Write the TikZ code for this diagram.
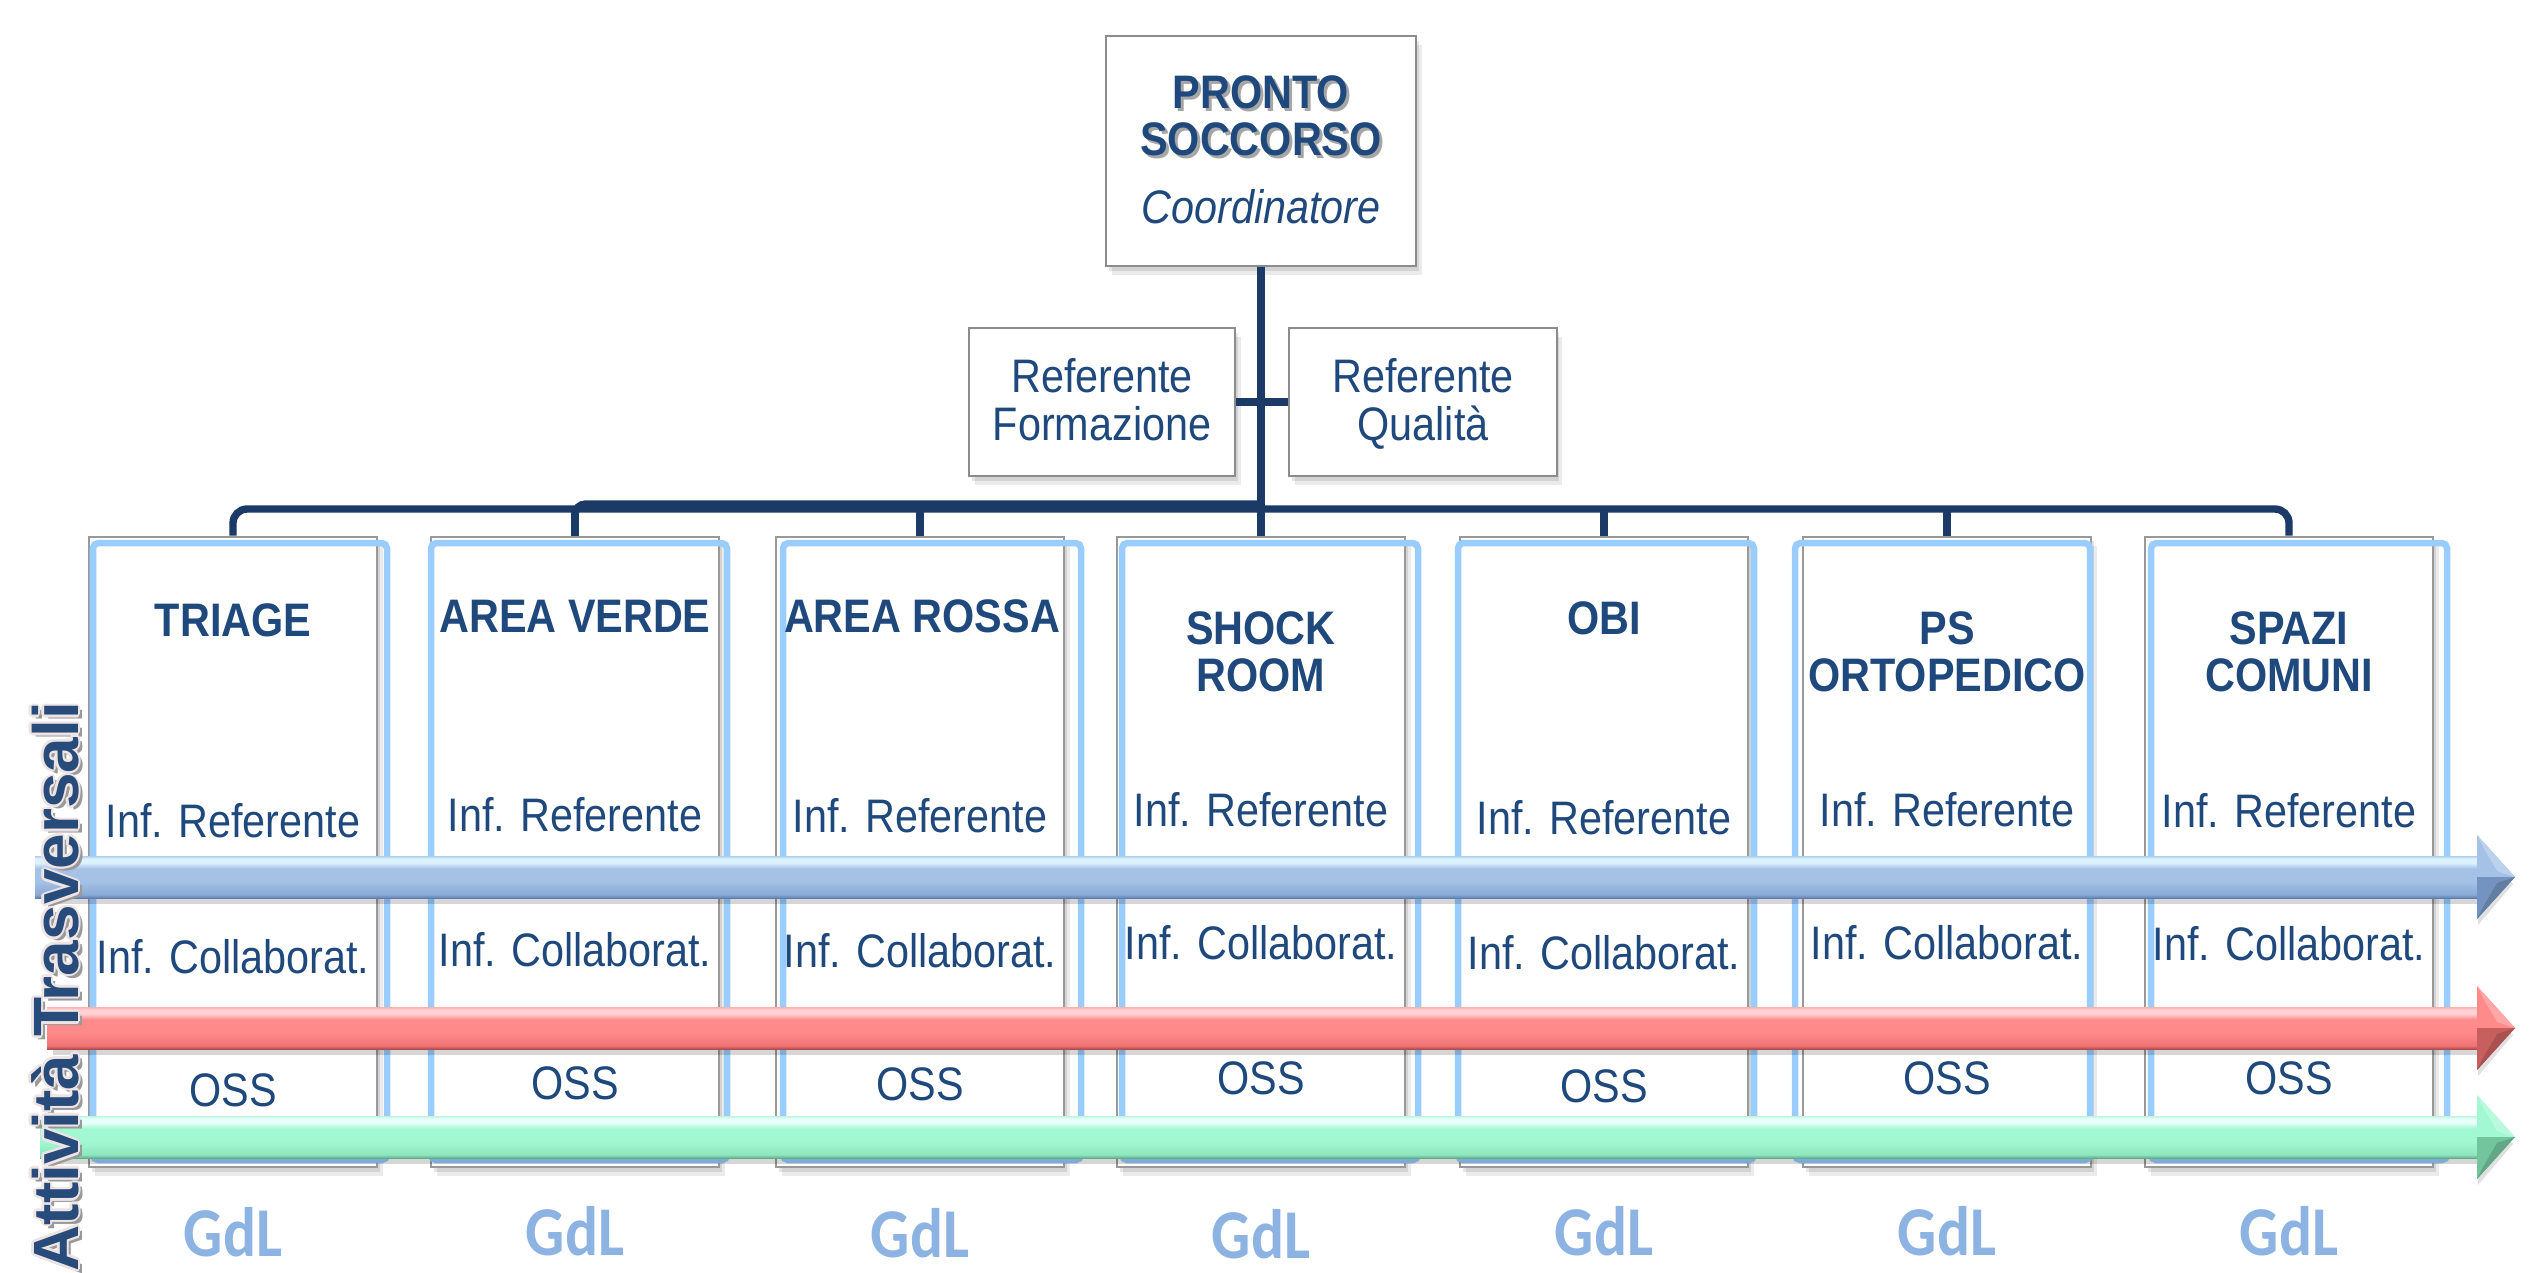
\documentclass[tikz,border=0pt]{standalone}
\usepackage{fontspec}
\setmainfont{Liberation Sans}[FakeStretch=0.88]
\newfontfamily\vfont{Liberation Sans}
\newfontfamily\gfont{Carlito}[FakeStretch=0.88]
\usetikzlibrary{calc}
\definecolor{txt}{HTML}{1F497D}
\definecolor{connc}{HTML}{1B3A66}
\definecolor{outl}{HTML}{99CCFF}
\definecolor{gdlc}{HTML}{8DB3E2}
\definecolor{vtxt}{HTML}{274B7A}
\definecolor{vglow}{HTML}{EFE4E4}
% blue arrow
\definecolor{bbot}{HTML}{5F7FB0}\definecolor{bmidb}{HTML}{8AA9D4}\definecolor{bmid}{HTML}{A5C1E6}
\definecolor{btop}{HTML}{DDF2FF}\definecolor{bedge}{HTML}{B0CCEE}
% red arrow
\definecolor{rbot}{HTML}{B04C4C}\definecolor{rmidb}{HTML}{F07474}\definecolor{rmid}{HTML}{FF8A8A}
\definecolor{rtop}{HTML}{FFD0D4}\definecolor{redge}{HTML}{FFB0B0}
% green arrow
\definecolor{gbot}{HTML}{5FAF88}\definecolor{gmidb}{HTML}{8EE6BE}\definecolor{gmid}{HTML}{A2F8D2}
\definecolor{gtop}{HTML}{E6FFFA}\definecolor{gedge}{HTML}{BFF5E0}
\pgfdeclareverticalshading{arrB}{100bp}{color(0bp)=(bbot); color(25bp)=(bbot); color(29bp)=(bmidb); color(45bp)=(bmid); color(60bp)=(bmid); color(67bp)=(btop); color(72bp)=(btop); color(75bp)=(bedge); color(100bp)=(bedge)}
\pgfdeclareverticalshading{arrR}{100bp}{color(0bp)=(rbot); color(25bp)=(rbot); color(29bp)=(rmidb); color(45bp)=(rmid); color(60bp)=(rmid); color(67bp)=(rtop); color(72bp)=(rtop); color(75bp)=(redge); color(100bp)=(redge)}
\pgfdeclareverticalshading{arrG}{100bp}{color(0bp)=(gbot); color(25bp)=(gbot); color(29bp)=(gmidb); color(45bp)=(gmid); color(60bp)=(gmid); color(67bp)=(gtop); color(72bp)=(gtop); color(75bp)=(gedge); color(100bp)=(gedge)}
\newcommand\fsz{\fontsize{13.37}{13.37}\selectfont}
% #1 y, #2 x start, #3 shading, #4 mid colour, #5 darker colour
\newcommand\trarrow[5]{%
  \fill[black,opacity=0.16] (#2+6,#1-10) rectangle (2478,#1+27);
  \fill[black,opacity=0.12] (2478,#1-32) -- (2513,#1+7) -- (2478,#1+48) -- cycle;
  \shade[shading=#3] (#2,#1-21) rectangle (2480,#1+21);
  \fill[#4] (2477,#1-42) -- (2515,#1) -- (2477,#1) -- cycle;
  \fill[#5] (2477,#1) -- (2515,#1) -- (2477,#1+42) -- cycle;
  \fill[#4!75!white] (2477,#1-42) -- (2515,#1) -- (2497,#1-6) -- (2483,#1-30) -- cycle;
  \fill[#5!85!black] (2477,#1+42) -- (2515,#1) -- (2497,#1+6) -- (2483,#1+30) -- cycle;
}
\tikzset{
  shadowed/.style={preaction={fill=black,opacity=0.08,transform canvas={xshift=1.6pt,yshift=-2.6pt}},
                   preaction={fill=black,opacity=0.10,transform canvas={xshift=0.8pt,yshift=-1.3pt}}},
  tbox/.style={draw=black!45, line width=0.6pt, fill=white, shadowed, inner sep=0pt},
  colbox/.style={draw=black!40, line width=0.7pt, fill=white, shadowed, minimum width=2.88cm, minimum height=6.30cm, inner sep=0pt},
  bluebox/.style={draw=outl, line width=1.85pt, rounded corners=1.5pt},
  conn/.style={draw=connc, line width=2.1pt},
  lbl/.style={anchor=base, inner sep=0pt, text=txt, font=\fsz},
  ttl/.style={lbl, font=\fsz\bfseries},
  gdl/.style={anchor=base, inner sep=0pt, text=gdlc, font=\gfont\bfseries\fontsize{19.9}{19.9}\selectfont},
  vt/.style={anchor=base west, rotate=90, inner sep=0pt, font=\vfont\bfseries\fontsize{18.2}{18.2}\selectfont}
}
\begin{document}
\begin{tikzpicture}[x=0.01cm,y=-0.01cm]
\useasboundingbox (0,0) rectangle (2546,1272);
\fill[white] (0,0) rectangle (2546,1272);

% top and referent boxes
\node[tbox, minimum width=3.10cm, minimum height=2.30cm] (ps) at (1261,151) {};
\node[tbox, minimum width=2.66cm, minimum height=1.48cm] (rf) at (1102,402) {};
\node[tbox, minimum width=2.67cm, minimum height=1.48cm] (rq) at (1423,402) {};

% column boxes
\foreach \ii/\cx/\bl/\br in {1/233/140/154, 2/575/144/152, 3/920/137/161, 4/1261/139/157, 5/1604/146/150, 6/1947/152/143, 7/2289/138/158}{
  \node[colbox] (c\ii) at (\cx,852) {};
  \draw[bluebox] ({\cx-\bl},543) rectangle ({\cx+\br},1160);
}

% connectors
\coordinate (bar) at (1261,509);
\coordinate (bar2) at (1261,504);
\draw[conn] (ps.south) -- (c4.north);
\draw[conn] (rf.east) -- (rq.west);
\draw[conn, rounded corners=4pt] (c1.north) -- (c1.north |- bar) -- (c7.north |- bar) -- (c7.north);
\draw[conn, rounded corners=3pt] (c2.north |- bar) -- (c2.north |- bar2) -- (bar2);
\foreach \ii in {2,3,5,6}{ \draw[conn] (c\ii.north |- bar) -- (c\ii.north); }

% top texts
\node[ttl, text=black!35] (s0a) at (1264,111) {PRONTO};
\node[ttl, text=black!35] (s0b) at (1264,158) {SOCCORSO};
\node[ttl] (t0a) at (1261,108) {PRONTO};
\node[ttl] (t0b) at (1261,155) {SOCCORSO};
\node[lbl, font=\fsz\itshape] (t0c) at (1261,223) {Coordinatore};
\node[lbl] (rf1) at (1102,392) {Referente};
\node[lbl] (rf2) at (1102,440) {Formazione};
\node[lbl] (rq1) at (1423,392) {Referente};
\node[lbl] (rq2) at (1423,440) {Qualità};

% column titles
\node[ttl] (h1) at (233,636) {TRIAGE};
\node[ttl] (h2) at (575,632) {AREA VERDE};
\node[ttl] (h3) at (922,632) {AREA ROSSA};
\node[ttl] (h4a) at (1261,644) {SHOCK};
\node[ttl] (h4b) at (1261,691) {ROOM};
\node[ttl] (h5) at (1604,634) {OBI};
\node[ttl] (h6a) at (1947,644) {PS};
\node[ttl] (h6b) at (1947,691) {ORTOPEDICO};
\node[ttl] (h7a) at (2289,644) {SPAZI};
\node[ttl] (h7b) at (2289,691) {COMUNI};

% column roles
\foreach \ii/\cx/\yr/\yc/\yo in {1/233/837/973/1106, 2/575/831/966/1099, 3/920/832/967/1100, 4/1261/826/959/1094, 5/1604/834/969/1102, 6/1947/826/959/1094, 7/2289/827/960/1094}{
  \node[lbl] (r\ii) at (\cx,\yr) {Inf. Referente};
  \node[lbl] (k\ii) at (\cx,\yc) {Inf. Collaborat.};
  \node[lbl] (o\ii) at (\cx,\yo) {OSS};
}

% transversal arrows
\trarrow{877}{35}{arrB}{bmid}{bbot!70!bmid}
\trarrow{1028}{47}{arrR}{rmid}{rbot!70!rmid}
\trarrow{1137}{40}{arrG}{gmid}{gbot!70!gmid}

% vertical label
\node[vt, text=black!40] (vs) at (82,1276) {Attività Trasversali};
\foreach \dx/\dy in {2.5/0, -2.5/0, 0/2.5, 0/-2.5, 1.8/1.8, -1.8/1.8, 1.8/-1.8, -1.8/-1.8}{
  \node[vt, text=vglow] at (78+\dx,1272+\dy) {Attività Trasversali};
}
\node[vt, text=vtxt] (vl) at (78,1272) {Attività Trasversali};

% GdL labels
\foreach \ii/\cx/\yg in {1/233/1256, 2/575/1255, 3/920/1257, 4/1261/1258, 5/1604/1255, 6/1947/1255, 7/2289/1255}{
  \node[gdl] (g\ii) at (\cx,\yg) {GdL};
}
\end{tikzpicture}
\end{document}
